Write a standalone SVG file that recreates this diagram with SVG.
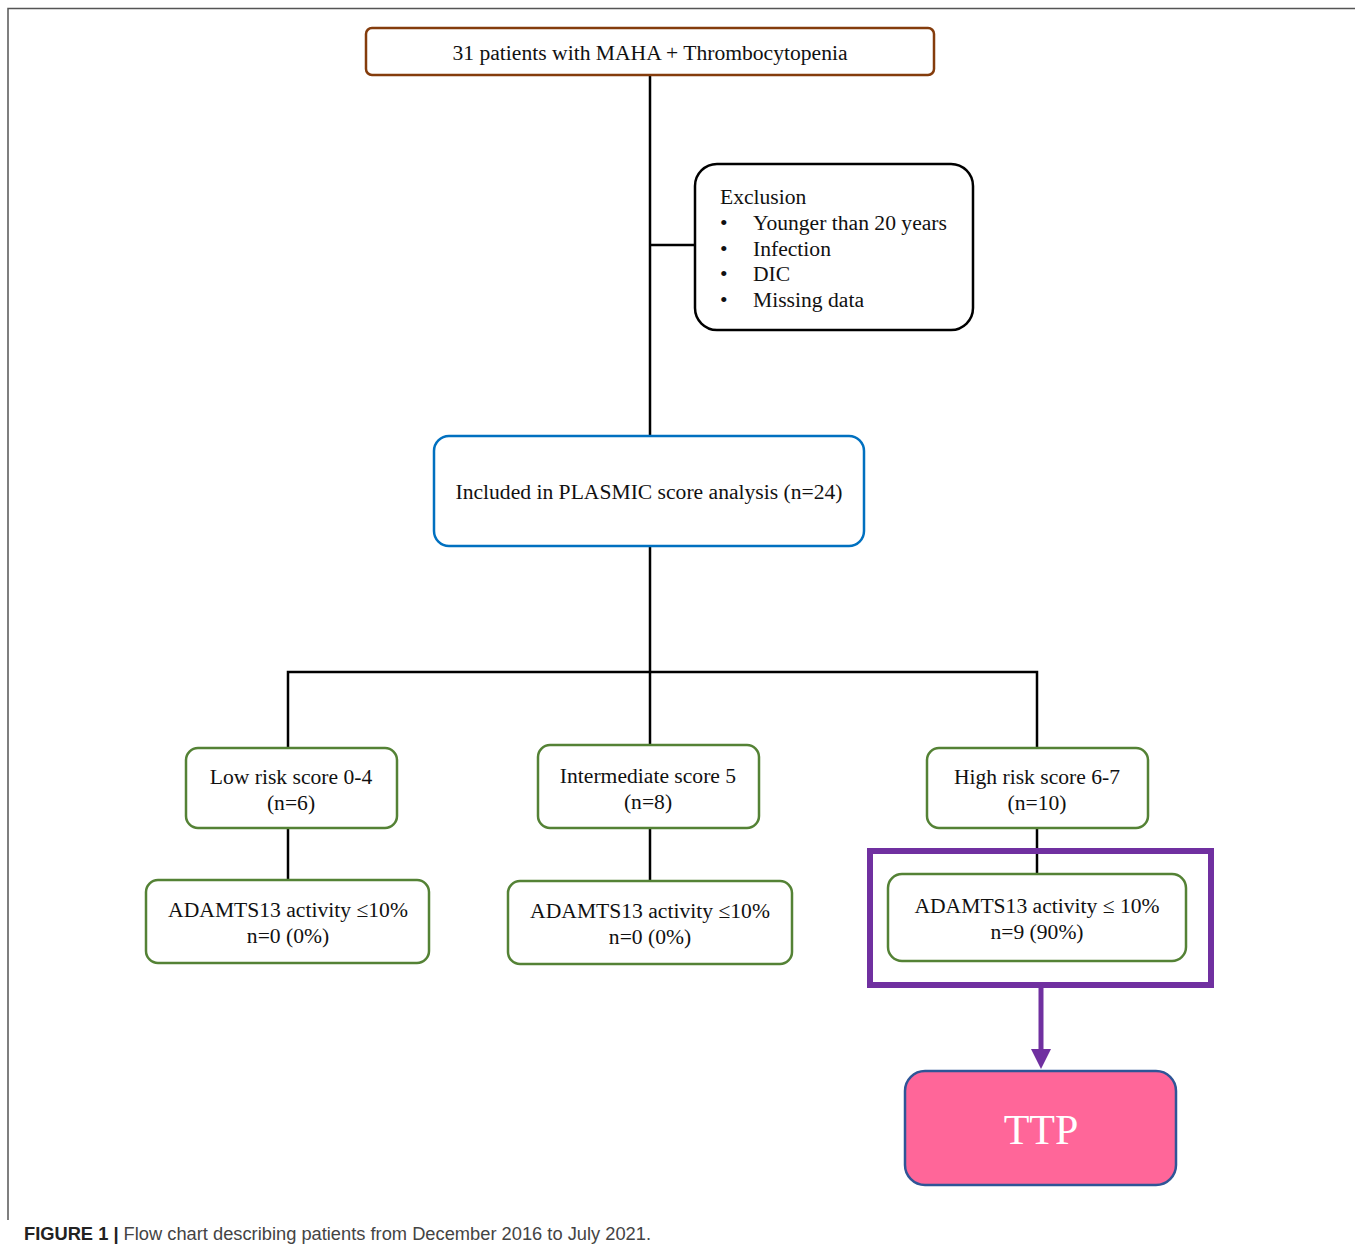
<svg xmlns="http://www.w3.org/2000/svg" width="1355" height="1248" viewBox="0 0 1355 1248">
<style>
.t{font-family:"Liberation Serif","Times New Roman",serif;font-size:21.6px;fill:#111;}
.c{text-anchor:middle;}
.g{fill:#fff;stroke:#548235;stroke-width:2.5;}
.ln{stroke:#000;stroke-width:2.5;fill:none;}
.cap{font-family:"Liberation Sans",Arial,sans-serif;font-size:18.3px;}
</style>
<defs>
<marker id="ah" markerWidth="4" markerHeight="4" refX="2" refY="2" orient="auto" markerUnits="strokeWidth" viewBox="0 0 4 4">
<path d="M0,0 L4,2 L0,4 z" fill="#7030A0"/>
</marker>
</defs>
<rect width="1355" height="1248" fill="#fff"/>
<path d="M8,1220 V8.5 H1355" fill="none" stroke="#555" stroke-width="1.5"/>
<g id="connectors">
<path class="ln" d="M650,75 V436"/>
<path class="ln" d="M650,245 H695"/>
<path class="ln" d="M650,546 V745"/>
<path class="ln" d="M288,748 V672 H1037 V748"/>
<path class="ln" d="M288,828 V880"/>
<path class="ln" d="M650,828 V881"/>
<path class="ln" d="M1037,828 V874"/>
<path d="M1041,985 V1059" stroke="#7030A0" stroke-width="5" fill="none" marker-end="url(#ah)"/>
</g>
<g id="n-start">
<rect x="366" y="28" width="568" height="47" rx="6" fill="#fff" stroke="#843C0C" stroke-width="2.5"/>
<text class="t c" x="650" y="60">31 patients with MAHA + Thrombocytopenia</text>
</g>
<g id="n-exclusion">
<rect x="695" y="164" width="278" height="166" rx="22" fill="#fff" stroke="#000" stroke-width="2.5"/>
<text class="t" x="720" y="204">Exclusion</text>
<text class="t" x="720" y="230">•</text><text class="t" x="753" y="230">Younger than 20 years</text>
<text class="t" x="720" y="256">•</text><text class="t" x="753" y="256">Infection</text>
<text class="t" x="720" y="281">•</text><text class="t" x="753" y="281">DIC</text>
<text class="t" x="720" y="307">•</text><text class="t" x="753" y="307">Missing data</text>
</g>
<g id="n-plasmic">
<rect x="434" y="436" width="430" height="110" rx="15" fill="#fff" stroke="#0070C0" stroke-width="2.5"/>
<text class="t c" x="649" y="499">Included in PLASMIC score analysis (n=24)</text>
</g>
<g id="n-low">
<rect class="g" x="186" y="748" width="211" height="80" rx="12"/>
<text class="t c" x="291" y="784">Low risk score 0-4</text>
<text class="t c" x="291" y="810">(n=6)</text>
</g>
<g id="n-mid">
<rect class="g" x="538" y="745" width="221" height="83" rx="12"/>
<text class="t c" x="648" y="783">Intermediate score 5</text>
<text class="t c" x="648" y="809">(n=8)</text>
</g>
<g id="n-high">
<rect class="g" x="927" y="748" width="221" height="80" rx="12"/>
<text class="t c" x="1037" y="784">High risk score 6-7</text>
<text class="t c" x="1037" y="810">(n=10)</text>
</g>
<g id="n-adam-low">
<rect class="g" x="146" y="880" width="283" height="83" rx="12"/>
<text class="t c" x="288" y="917">ADAMTS13 activity ≤10%</text>
<text class="t c" x="288" y="943">n=0 (0%)</text>
</g>
<g id="n-adam-mid">
<rect class="g" x="508" y="881" width="284" height="83" rx="12"/>
<text class="t c" x="650" y="918">ADAMTS13 activity ≤10%</text>
<text class="t c" x="650" y="944">n=0 (0%)</text>
</g>
<g id="n-highlight">
<rect x="870" y="851" width="341" height="134" fill="none" stroke="#7030A0" stroke-width="6"/>
</g>
<g id="n-adam-high">
<rect class="g" x="888" y="874" width="298" height="87" rx="14"/>
<text class="t c" x="1037" y="913">ADAMTS13 activity ≤ 10%</text>
<text class="t c" x="1037" y="939">n=9 (90%)</text>
</g>
<g id="n-ttp">
<rect x="905" y="1071" width="271" height="114" rx="20" fill="#FF6699" stroke="#2F5597" stroke-width="2.5"/>
<text class="c" x="1041" y="1144" font-family="Liberation Serif,Times New Roman,serif" font-size="42" fill="#fff">TTP</text>
</g>
<text class="cap" x="24" y="1240"><tspan font-weight="bold" fill="#222">FIGURE 1 |</tspan><tspan fill="#444"> Flow chart describing patients from December 2016 to July 2021.</tspan></text>
</svg>
